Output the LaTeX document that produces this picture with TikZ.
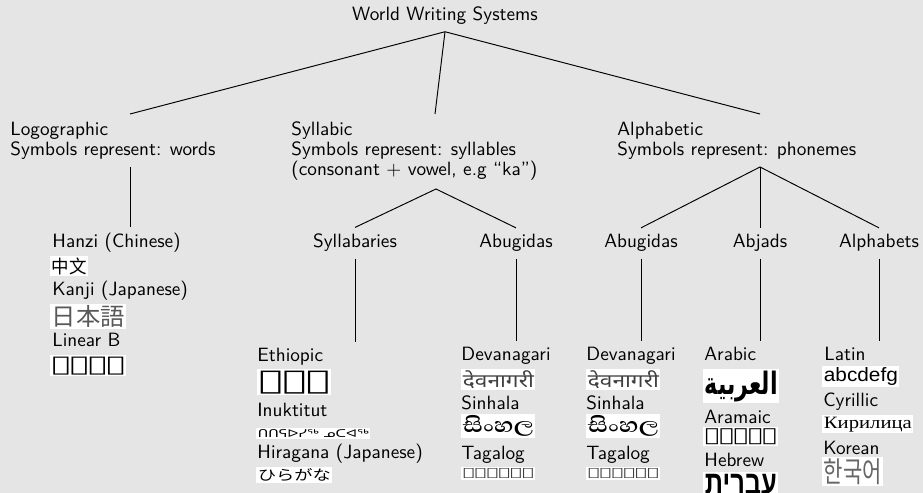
\documentclass[tikz,border=0pt]{standalone}
\usepackage{fontspec}
\usepackage{graphicx}
\TeXXeTstate=1
\newfontfamily\cjksc{Noto Sans CJK SC}
\newfontfamily\cjkjp{Noto Sans CJK JP}
\newfontfamily\cjkkr{Noto Sans CJK KR}
\newfontfamily\devafont[Script=Devanagari]{Noto Sans}
\newfontfamily\sinhfont[Script=Sinhala]{Abhaya Libre}
\newfontfamily\arabfont[Script=Arabic]{DejaVu Sans}
\newfontfamily\hebrfont[Script=Hebrew]{Liberation Sans}
\newfontfamily\latnfont{Liberation Sans}
\newfontfamily\cyrlfont{Liberation Serif}
\newfontfamily\ucasfont{DejaVu Sans}
\newfontfamily\ethifont{DejaVu Sans}
\newfontfamily\tglgfont{DejaVu Sans}
\newfontfamily\linbfont{DejaVu Sans}
\newfontfamily\armifont{DejaVu Sans}
\definecolor{bgc}{RGB}{229,229,229}
\newdimen\pxu \pxu=0.52pt
\newcommand\smp[3]{\resizebox*{#1\pxu}{#2\pxu}{#3}}
\begin{document}
\begin{tikzpicture}[x=0.52pt,y=-0.52pt,
  every node/.style={font=\sffamily\fontsize{10pt}{10.4pt}\selectfont, text=black},
  conn/.style={draw=black, line width=0.5pt},
  titlebox/.style={anchor=base, inner sep=3.33pt},
  lone/.style={anchor=north west, align=left, inner xsep=0pt, inner ysep=3.33pt},
  ltwo/.style={anchor=base, inner sep=3.33pt},
  leaf/.style={anchor=base west, inner xsep=0pt, inner ysep=3.33pt},
  smpl/.style={anchor=north west, fill=white, inner sep=0.78pt}]
\fill[bgc] (0,0) rectangle (923,493);
\useasboundingbox (0,0) rectangle (923,493);

% root and level 1
\node[titlebox] (root) at (445,21) {World Writing Systems};
\node[lone] (logo) at (10,115) {Logographic\\Symbols represent: words};
\node[lone] (syll) at (291,115) {Syllabic\\Symbols represent: syllables\\(consonant + vowel, e.g “ka”)};
\node[lone] (alph) at (617,115) {Alphabetic\\Symbols represent: phonemes};
\coordinate (logoIn) at (130,114);
\coordinate (syllIn) at (435,114);
\coordinate (alphIn) at (760,114);
\coordinate (logoOut) at (130,167);
\coordinate (syllOut) at (436,189);
\coordinate (alphOut) at (760,167);

% level 2
\node[ltwo] (sylb) at (355,248) {Syllabaries};
\node[ltwo] (abugA) at (516,248) {Abugidas};
\node[ltwo] (abugB) at (641,248) {Abugidas};
\node[ltwo] (abjd) at (760,248) {Abjads};
\node[ltwo] (alpb) at (879,248) {Alphabets};

% logographic leaf
\node[leaf] (hanzi) at (52,248) {Hanzi (Chinese)};
\node[smpl] (hanziS) at (50,256) {\smp{35}{17}{\cjksc 中文}};
\node[leaf] (kanji) at (52,296) {Kanji (Japanese)};
\node[smpl] (kanjiS) at (50,304) {\smp{73}{22}{\color{black!65}\cjkjp 日本語}};
\node[leaf] (linb) at (52,347) {Linear B};
\node[smpl] (linbS) at (50,355) {\smp{73}{18}{\linbfont 𐀁𐀡𐀦𐀪}};

% syllabaries leaf
\node[leaf] (ethi) at (257,362) {Ethiopic};
\node[smpl] (ethiS) at (257,369) {\smp{71}{23}{\ethifont ፊደል}};
\node[leaf] (inuk) at (257,417) {Inuktitut};
\node[smpl] (inukS) at (256,428) {\smp{111}{8}{\ucasfont ᑎᑎᕋᐅᓯᖅ ᓄᑕᐊᖅ}};
\node[leaf] (hira) at (257,459) {Hiragana (Japanese)};
\node[smpl] (hiraS) at (256,467) {\smp{73}{13}{\cjkjp ひらがな}};

% syllabic abugidas leaf
\node[leaf] (devaA) at (461,361) {Devanagari};
\node[smpl] (devaAS) at (461,369) {\smp{71}{18}{\color{black!75}\devafont देवनागरी}};
\node[leaf] (sinhA) at (461,410) {Sinhala};
\node[smpl] (sinhAS) at (461,414) {\smp{71}{21}{\sinhfont\bfseries සිංහල}};
\node[leaf] (tglgA) at (461,460) {Tagalog};
\node[smpl] (tglgAS) at (461,467) {\smp{71}{10}{\color{black!75}\tglgfont ᜆᜄᜎᜓᜄ᜔}};

% alphabetic abugidas leaf
\node[leaf] (devaB) at (586,361) {Devanagari};
\node[smpl] (devaBS) at (586,369) {\smp{71}{18}{\color{black!75}\devafont देवनागरी}};
\node[leaf] (sinhB) at (586,410) {Sinhala};
\node[smpl] (sinhBS) at (586,414) {\smp{71}{21}{\sinhfont\bfseries සිංහල}};
\node[leaf] (tglgB) at (586,460) {Tagalog};
\node[smpl] (tglgBS) at (586,467) {\smp{71}{10}{\color{black!75}\tglgfont ᜆᜄᜎᜓᜄ᜔}};

% abjads leaf
\node[leaf] (arab) at (704,361) {Arabic};
\node[smpl] (arabS) at (703,369) {\smp{73}{31}{\arabfont\bfseries\beginR العربية\endR}};
\node[leaf] (armi) at (704,424) {Aramaic};
\node[smpl] (armiS) at (703,427) {\smp{72}{16}{\armifont\beginR 𐡀𐡓𐡌𐡉𐡀\endR}};
\node[leaf] (hebr) at (704,467) {Hebrew};
\node[smpl] (hebrS) at (703,472) {\smp{72}{21}{\hebrfont\bfseries\beginR עברית\endR}};

% alphabets leaf
\node[leaf] (latn) at (824,361) {Latin};
\node[smpl] (latnS) at (822,366) {\smp{74}{18}{\latnfont abcdefg}};
\node[leaf] (cyrl) at (823,407) {Cyrillic};
\node[smpl] (cyrlS) at (822,415) {\smp{88}{15}{\cyrlfont Кирилица}};
\node[leaf] (kore) at (823,455) {Korean};
\node[smpl] (koreS) at (822,457) {\smp{58}{26}{\color{black!60}\cjkkr 한국어}};

% connectors
\draw[conn] (root.south) -- (logoIn);
\draw[conn] (root.south) -- (syllIn);
\draw[conn] (root.south) -- (alphIn);
\draw[conn] (logoOut) -- (logoOut |- hanzi.north);
\draw[conn] (sylb.north) -- (syllOut) -- (abugA.north);
\draw[conn] (abugB.north) -- (alphOut) -- (alpb.north);
\draw[conn] (alphOut) -- (abjd.north);
\draw[conn] (sylb.south) -- (sylb.south |- ethi.north);
\draw[conn] (abugA.south) -- (abugA.south |- devaA.north);
\draw[conn] (abugB.south) -- (abugB.south |- devaB.north);
\draw[conn] (abjd.south) -- (abjd.south |- arab.north);
\draw[conn] (alpb.south) -- (alpb.south |- latn.north);
\end{tikzpicture}
\end{document}
